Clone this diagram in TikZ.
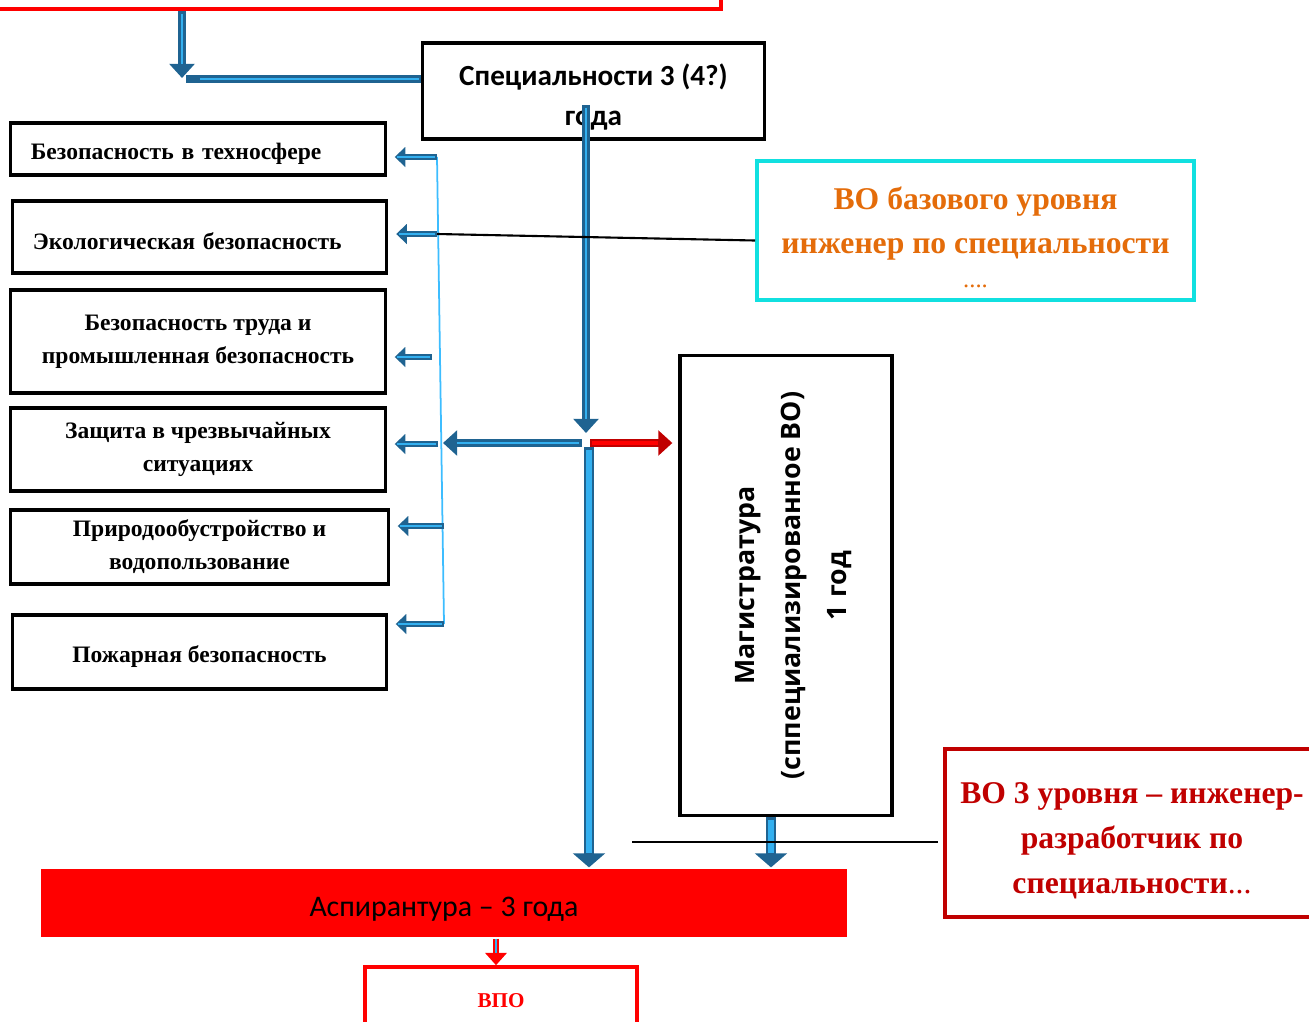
\documentclass[tikz,border=0pt]{standalone}
\usepackage{fontspec}
\setmainfont{Liberation Serif}
\newfontfamily\specfont{Carlito}
\newfontfamily\magfont{Open Sans}
\usetikzlibrary{arrows.meta}
\definecolor{flowdark}{HTML}{1F6391}
\definecolor{flowlight}{HTML}{33B0F0}
\definecolor{busblue}{HTML}{3DBDFF}
\definecolor{baseline}{HTML}{11E0E0}
\definecolor{basetext}{HTML}{E46C0A}
\definecolor{darkred}{HTML}{C00000}
\begin{document}
\begin{tikzpicture}[x=0.01cm, y=-0.01cm,
    box/.style={draw=black, line width=0.9pt, inner sep=0pt, align=center},
    kind/.style={box, minimum width=3.74cm, font=\bfseries\fontsize{6.7}{9.4}\selectfont,
        execute at begin node={\rule{0pt}{0.26cm}}},
    flow/.style={draw=flowdark, line width=2.2pt, -{Triangle[length=4pt,width=7pt]},
        postaction={draw=flowlight, line width=0.7pt, -, shorten >=4pt, shorten <=0.8pt}},
    flowthick/.style={draw=flowdark, line width=2.8pt, -{Triangle[length=4pt,width=9pt]},
        postaction={draw=flowlight, line width=1.6pt, -, shorten >=4pt, shorten <=0.8pt}},
    flowsmall/.style={draw=flowdark, line width=1.7pt, -{Triangle[length=3pt,width=5.5pt]},
        postaction={draw=flowlight, line width=0.5pt, -, shorten >=3pt, shorten <=0.6pt}},
    redflow/.style={draw=darkred, line width=2pt, -{Triangle[length=4pt,width=7pt]},
        postaction={draw=red, line width=0.9pt, -, shorten >=4pt, shorten <=0.6pt}},
    redthin/.style={draw=red, line width=1.5pt, -{Triangle[length=3.5pt,width=6pt]},
        postaction={draw=flowlight, line width=0.3pt, -, shorten >=3.5pt}}]
    \useasboundingbox (0,0) rectangle (1309,1021);

    %% Boxes
    \node[box, draw=red, line width=1.1pt, minimum width=7.32cm, minimum height=0.48cm] (topbox) at (355,-15) {};
    \node[box, minimum width=3.41cm, minimum height=0.96cm,
        font=\specfont\bfseries\fontsize{8.3}{11.4}\selectfont] (spec) at (593.5,91) {\rule{0pt}{0.34cm}Специальности 3 (4?)\\года};
    \node[kind, minimum height=0.52cm, text width=3.34cm, align=left, inner xsep=0.2cm] (k1) at (198,149) {Безопасность в техносфере};
    \node[kind, minimum height=0.72cm, text width=3.33cm, align=left, inner xsep=0.2cm] (k2) at (199.5,237) {Экологическая безопасность};
    \node[kind, minimum height=1.03cm] (k3) at (198,341.5) {Безопасность труда и\\промышленная безопасность};
    \node[kind, minimum height=0.83cm] (k4) at (198,449.5) {Защита в чрезвычайных\\ситуациях};
    \node[kind, minimum height=0.74cm, minimum width=3.77cm] (k5) at (199.5,547) {Природообустройство и\\водопользование};
    \node[kind, minimum height=0.74cm, minimum width=3.73cm] (k6) at (199.5,652) {Пожарная безопасность};
    \node[box, draw=baseline, line width=1pt, minimum width=4.37cm, minimum height=1.39cm, text=basetext,
        font=\bfseries\fontsize{9}{12.5}\selectfont] (base) at (975.5,230.5) {\rule{0pt}{0.36cm}ВО базового уровня\\инженер по специальности\\[-0.7ex]{\mdseries\fontsize{7}{8}\selectfont....}};
    \node[box, rotate=90, minimum width=4.59cm, minimum height=2.12cm,
        font=\magfont\bfseries\fontsize{7.6}{13}\selectfont] (mag) at (786,585.5) {\rule{0pt}{0.34cm}Магистратура\\(сппециализированное ВО)\\1 год};
    \node[box, draw=none, fill=red, minimum width=8.06cm, minimum height=0.68cm,
        font=\specfont\fontsize{8.5}{9}\selectfont] (asp) at (444,903) {\rule{0pt}{0.32cm}Аспирантура – 3 года};
    \node[box, draw=red, line width=1pt, minimum width=2.72cm, minimum height=0.66cm, text=red,
        font=\bfseries\fontsize{6}{7}\selectfont] (vpo) at (501,1000) {\rule{0pt}{0.16cm}ВПО};
    \node[box, draw=darkred, line width=1pt, minimum width=3.74cm, minimum height=1.68cm, text=darkred,
        font=\bfseries\fontsize{9}{12.8}\selectfont] (vo3) at (1132,833) {\rule{0pt}{0.37cm}ВО 3 уровня – инженер-\\разработчик по\\специальности{\mdseries...}};

    %% Points
    \coordinate (topdrop) at (182,78);
    \coordinate (elbow) at (186,79);
    \coordinate (spectail) at (586,105);
    \coordinate (hub) at (586,443);
    \coordinate (hubout) at (589,447);
    \coordinate (split) at (443,443);
    \coordinate (bustop) at (437,157);
    \coordinate (busbot) at (444,624);
    \coordinate (rule) at (632,842);

    %% Connectors
    \draw[flow] (topbox.south -| topdrop) -- (topdrop);
    \draw[flow, -] (spec.west |- elbow) -- (elbow);
    \draw[flow] (spectail) -- ([yshift=0.1cm]hub);
    \draw[flowthick] (hubout) -- (asp.north -| hubout);
    \draw[flow] ([xshift=-0.04cm]hub) -- (split);
    \draw[redflow] ([xshift=0.04cm]hub) -- ([xshift=-0.06cm]mag.north |- hub);
    \draw[busblue, line width=0.5pt] (bustop) -- (busbot);
    \foreach \n/\x/\y in {k1/437/157, k2/437/234, k3/432/357, k4/438/444, k5/444/526, k6/444/624}
        \draw[flowsmall, shorten >=0.08cm] (\x,\y) -- (\n.east |- 0,\y);
    \draw[line width=0.6pt] (437,234) -- ([yshift=-0.1cm]base.west);
    \draw[flowthick] (mag.west -| 771,0) -- (asp.north -| 771,0);
    \draw[line width=0.6pt, shorten >=0.05cm] (rule) -- (vo3.west |- rule);
    \draw[redthin] (asp.south -| 496,0) -- (vpo.north -| 496,0);
\end{tikzpicture}
\end{document}
